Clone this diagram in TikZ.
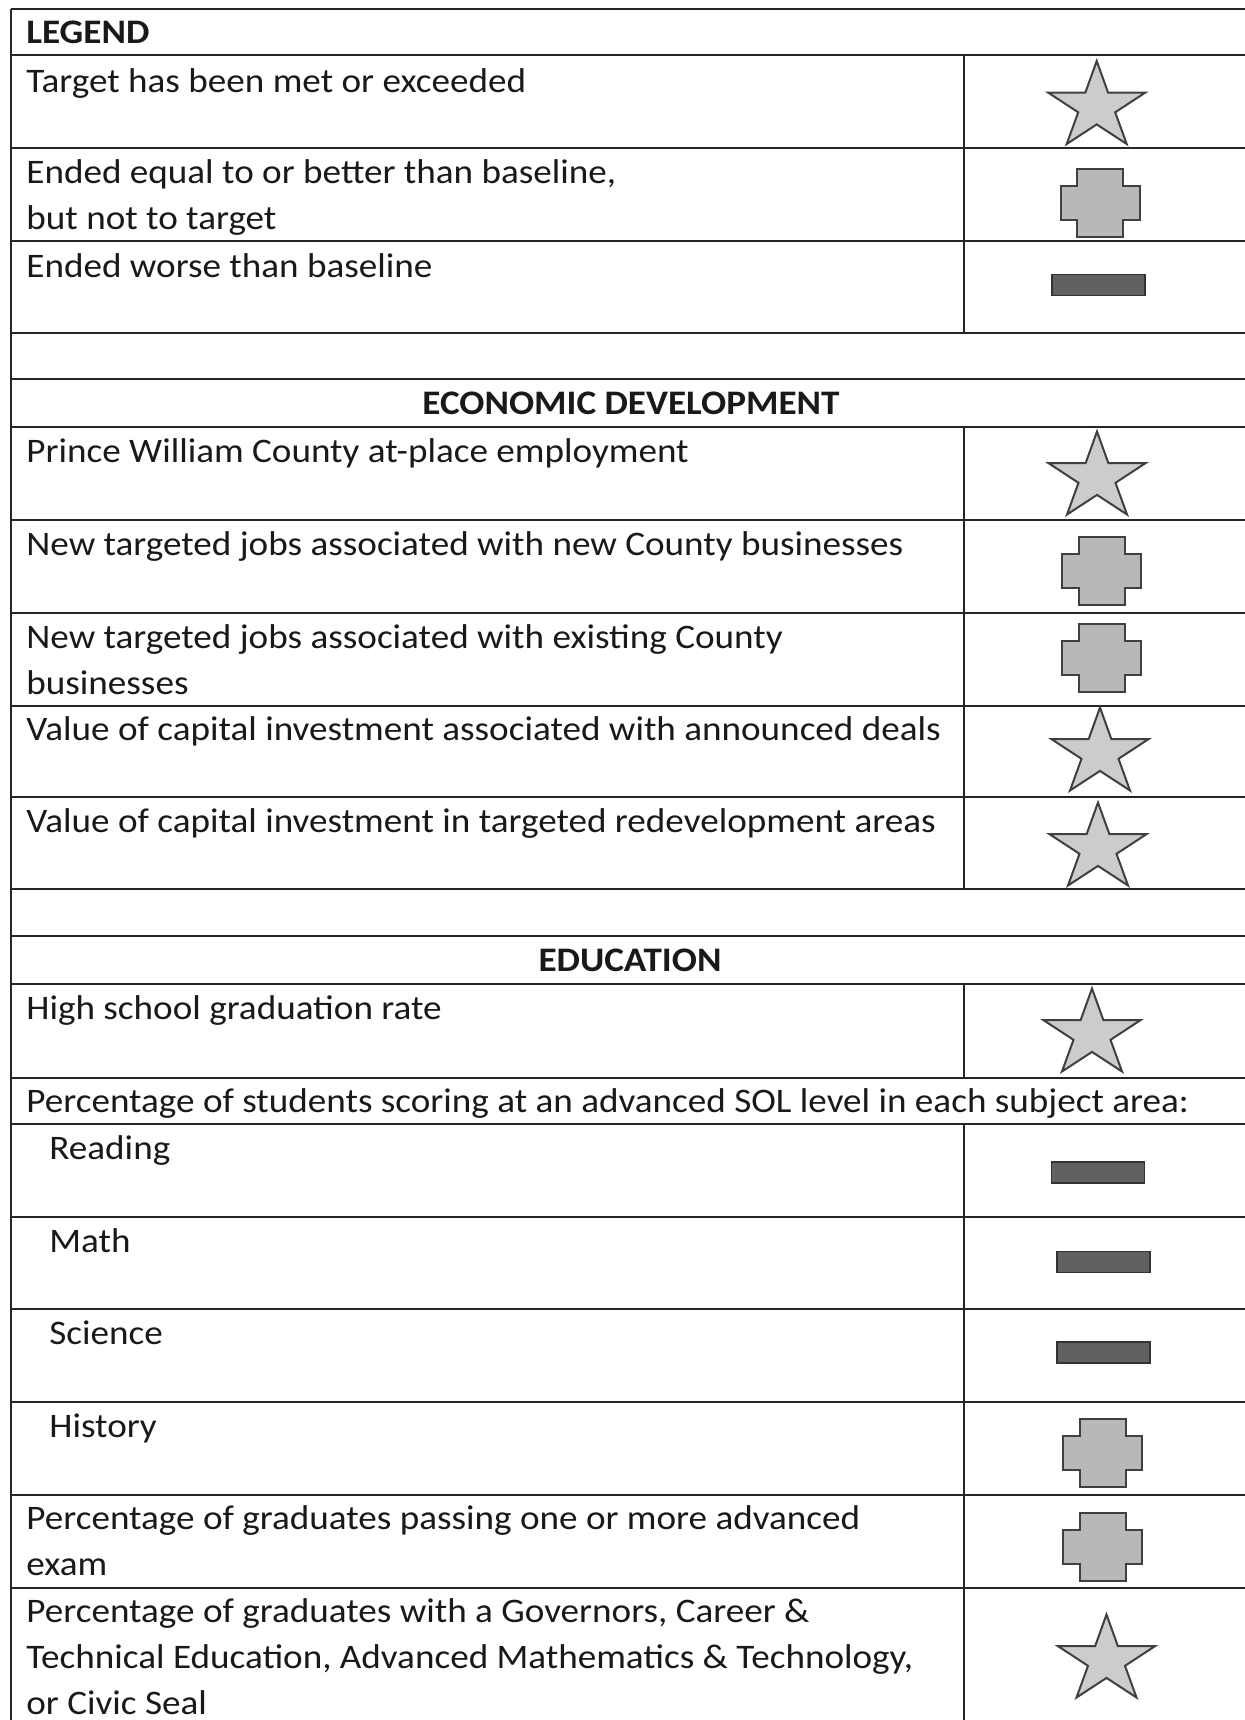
\documentclass[tikz,border=0pt]{standalone}
\usepackage{fontspec}
\setmainfont{Carlito}[FakeStretch=1.08]
\begin{document}
\begin{tikzpicture}[x=0.5pt,y=-0.5pt,
  grid/.style={line width=0.9pt,draw=black!85},
  txt/.style={anchor=base west,inner sep=0pt,align=left,font=\fontsize{17.2}{23}\selectfont,text=black!90},
  hdr/.style={anchor=base,inner sep=0pt,font=\fontsize{17.2}{23}\selectfont\bfseries,text=black!90},
  symline/.style={draw=black!75,line width=1pt,line join=miter},
  starsym/.pic={\path[symline,fill=black!20] (0,-41.5) -- (11.4,-9.8) -- (48.4,-9.8) -- (18.5,9.8) -- (30,41.5) -- (0,21.9) -- (-30,41.5) -- (-18.5,9.8) -- (-48.4,-9.8) -- (-11.4,-9.8) -- cycle;},
  crosssym/.pic={\path[symline,fill=black!28] (-23,-34) -- (23,-34) -- (23,-17) -- (39.5,-17) -- (39.5,17) -- (23,17) -- (23,34) -- (-23,34) -- (-23,17) -- (-39.5,17) -- (-39.5,-17) -- (-23,-17) -- cycle;},
  barsym/.pic={\path[draw=black!80,line width=0.6pt,fill=black!62] (-46.5,-10.5) rectangle (46.5,10.5);}
]
\useasboundingbox (0,0) rectangle (1245,1720);
\fill[white] (0,0) rectangle (1245,1720);

% horizontal rules
\foreach \yy in {9,55,148,241,333,379,427,520,613,706,797,889,936,984,1078,1124,1217,1309,1402,1495,1588}
  \draw[grid] (11,\yy) -- (1260,\yy);
% left border
\draw[grid] (11,9) -- (11,1730);
% column divider
\draw[grid] (964,55) -- (964,333);
\draw[grid] (964,427) -- (964,889);
\draw[grid] (964,984) -- (964,1078);
\draw[grid] (964,1124) -- (964,1730);

% legend (base anchor = last line of a node)
\node[hdr,anchor=base west] (legend) at (26,43) {LEGEND};
\node[txt] (l1) at (26,92) {Target has been met or exceeded};
\node[txt] (l2) at (26,229) {Ended equal to or better than baseline,\\but not to target};
\node[txt] (l3) at (26,277) {Ended worse than baseline};
\pic at (1096.7,102.5) {starsym};
\pic at (1100,202.5) {crosssym};
\pic at (1098.5,285) {barsym};

% economic development
\node[hdr] (econ) at (631,414) {ECONOMIC DEVELOPMENT};
\node[txt] (e1) at (26,462) {Prince William County at-place employment};
\node[txt] (e2) at (26,555) {New targeted jobs associated with new County businesses};
\node[txt] (e3) at (26,694) {New targeted jobs associated with existing County\\businesses};
\node[txt] (e4) at (26,740) {Value of capital investment associated with announced deals};
\node[txt] (e5) at (26,832) {Value of capital investment in targeted redevelopment areas};
\pic at (1097,473) {starsym};
\pic at (1101.5,571) {crosssym};
\pic at (1101.5,658) {crosssym};
\pic at (1100,749) {starsym};
\pic at (1098,844) {starsym};

% education
\node[hdr] (edu) at (630,971) {EDUCATION};
\node[txt] (d1) at (26,1019) {High school graduation rate};
\node[txt] (d2) at (26,1112) {Percentage of students scoring at an advanced SOL level in each subject area:};
\node[txt] (d3) at (49,1159) {Reading};
\node[txt] (d4) at (49,1252) {Math};
\node[txt] (d5) at (49,1344) {Science};
\node[txt] (d6) at (49,1437) {History};
\node[txt] (d7) at (26,1575) {Percentage of graduates passing one or more advanced\\exam};
\node[txt] (d8) at (26,1714) {Percentage of graduates with a Governors, Career \&\\Technical Education, Advanced Mathematics \& Technology,\\or Civic Seal};
\pic at (1092,1030) {starsym};
\pic at (1098,1172.5) {barsym};
\pic at (1103.5,1262) {barsym};
\pic at (1103.5,1352.5) {barsym};
\pic at (1102.5,1453) {crosssym};
\pic at (1102.5,1547) {crosssym};
\pic at (1106.5,1656) {starsym};
\end{tikzpicture}
\end{document}
